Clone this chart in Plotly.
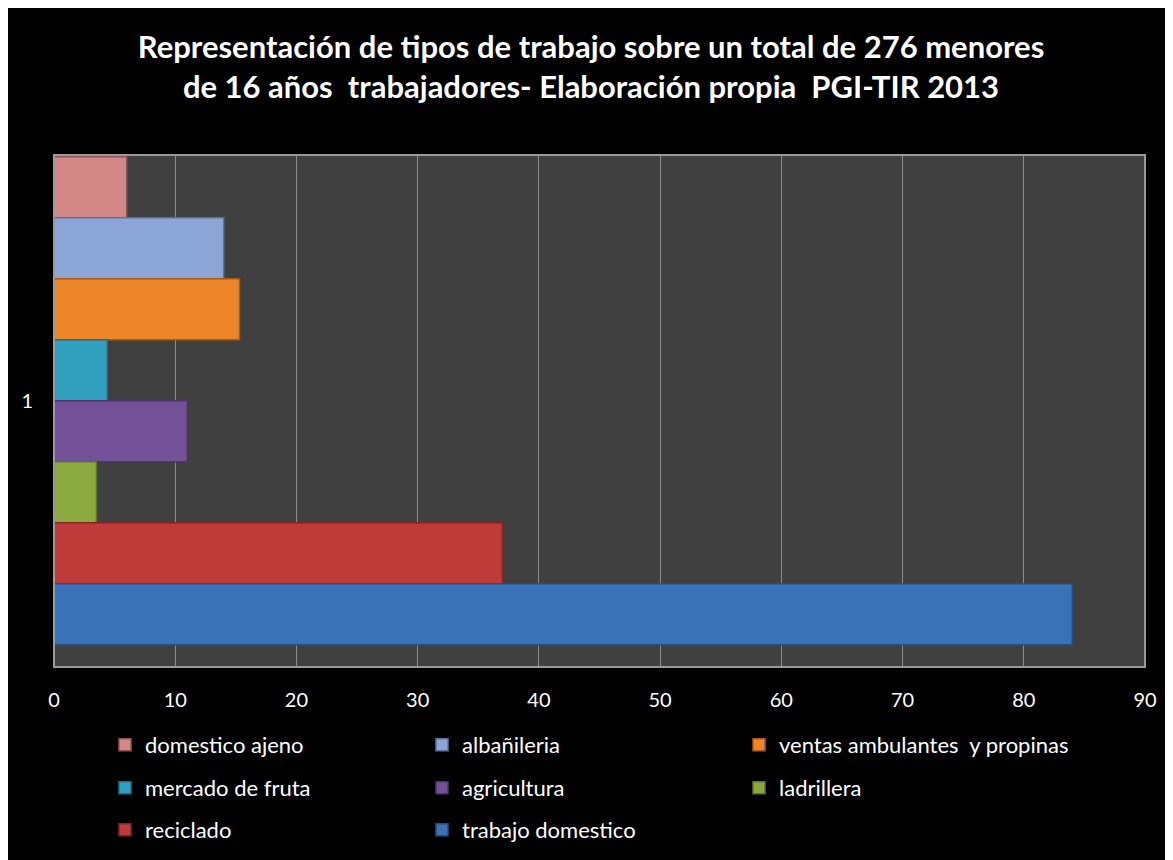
import plotly.graph_objects as go

categories = ["1"]
series_names = ["domestico ajeno", "albañileria", "ventas ambulantes  y propinas",
                "mercado de fruta", "agricultura", "ladrillera", "reciclado", "trabajo domestico"]
series_values = [6, 14, 15.3, 4.4, 11, 3.5, 37, 84]
series_colors = ["#D48787", "#8BA6D6", "#EE8629", "#31A0BF", "#735198", "#8AAA3F", "#BE3B3A", "#3A72B8"]
series_lines = ["#8E5454", "#5B7199", "#A85A15", "#1F6F86", "#4B3466", "#5C7328", "#842524", "#254E80"]
legend_slots = ["legend", "legend", "legend4", "legend2", "legend2", "legend5", "legend3", "legend3"]
x_ticks = list(range(0, 91, 10))

FONT = "Lato"

fig = go.Figure()
for name, val, col, lc, lg in zip(series_names, series_values, series_colors, series_lines, legend_slots):
    fig.add_trace(go.Bar(
        y=categories, x=[val], name=name, orientation="h",
        marker=dict(color=col, line=dict(color=lc, width=1.5)),
        legend=lg,
    ))

# page has 8px body margin; figure coords = page coords - 8
OFF = 8
W, H = 1173 - OFF, 860 - OFF
L, R, T, B = 54 - OFF, 28, 155 - OFF, 193
pw, ph = W - L - R, H - T - B

def px_x(p):
    return (p - OFF - L) / pw

def px_y(p):
    return (H - B - (p - OFF)) / ph

leg_common = dict(orientation="h", xanchor="left", yanchor="middle",
                  font=dict(family=FONT, size=22, color="white"),
                  bgcolor="rgba(0,0,0,0)", entrywidth=272, entrywidthmode="pixels",
                  itemclick=False)
leg_single = dict(orientation="h", xanchor="left", yanchor="middle",
                  font=dict(family=FONT, size=22, color="white"),
                  bgcolor="rgba(0,0,0,0)", itemclick=False)

row_y = [745, 788, 830]
col1_x, col3_x = 105, 739

fig.update_layout(
    width=W, height=H,
    margin=dict(l=L, r=R, t=T, b=B, autoexpand=False),
    paper_bgcolor="black",
    plot_bgcolor="#404040",
    barmode="group",
    bargap=0.047,
    bargroupgap=0,
    title=dict(
        text="<b>Representación de tipos de trabajo sobre un total de 276 menores<br>de 16 años  trabajadores- Elaboración propia  PGI-TIR 2013</b>",
        x=(591 - OFF) / W, xref="container", xanchor="center",
        y=1 - (58 - OFF) / H, yref="container", yanchor="middle",
        font=dict(family=FONT, size=31, color="white"),
    ),
    xaxis=dict(
        range=[0, 90], tickvals=x_ticks, ticktext=[str(v) for v in x_ticks],
        showgrid=True, gridcolor="#8C8C8C", gridwidth=1,
        zeroline=False, showline=False, ticks="",
        tickfont=dict(family=FONT, size=20, color="white"),
        ticklabelstandoff=19,
    ),
    yaxis=dict(
        type="category", range=[0.52, -0.48], showgrid=False, zeroline=False,
        ticks="", tickfont=dict(family=FONT, size=20, color="white"),
        ticklabelstandoff=20,
    ),
    legend=dict(x=px_x(col1_x), y=px_y(row_y[0]), **leg_common),
    legend2=dict(x=px_x(col1_x), y=px_y(row_y[1]), **leg_common),
    legend3=dict(x=px_x(col1_x), y=px_y(row_y[2]), **leg_common),
    legend4=dict(x=px_x(col3_x), y=px_y(row_y[0]), **leg_single),
    legend5=dict(x=px_x(col3_x), y=px_y(row_y[1]), **leg_single),
    showlegend=True,
    shapes=[
        dict(type="rect", xref="paper", yref="paper", x0=0, x1=1, y0=0, y1=1,
             line=dict(color="#9A9A9A", width=2), fillcolor="rgba(0,0,0,0)", layer="above"),
    ],
)

fig.write_html("out.html")
